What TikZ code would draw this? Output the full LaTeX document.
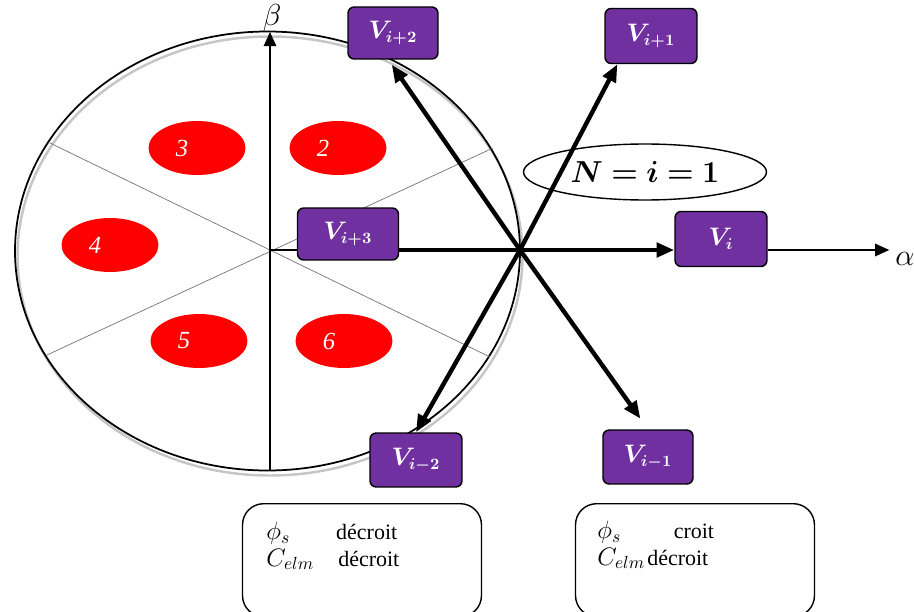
\documentclass[tikz,border=0pt]{standalone}
\usepackage{fontspec}
\setmainfont{Liberation Serif}
\usepackage{amsmath}
\usepackage{bm}
\usetikzlibrary{arrows.meta,shapes.geometric}
\definecolor{vecfill}{HTML}{7030A0}
\definecolor{sectred}{HTML}{FF0000}
\newcommand{\bigmath}[1]{{\fontsize{14.5}{15}\selectfont$#1$}}
\tikzset{
  vbox/.style={draw=black, fill=vecfill, text=white, rounded corners=3.5pt,
               line width=0.8pt, minimum width=1.8cm, minimum height=1.04cm,
               inner sep=0pt, font=\fontsize{13.5}{16}\selectfont},
  sector/.style={ellipse, fill=sectred, minimum width=1.94cm,
                 minimum height=1.08cm, inner sep=0pt},
  seclabel/.style={text=white, font=\fontsize{14}{16}\selectfont\itshape},
  infobox/.style={draw, rounded corners=12pt, line width=0.8pt,
                  minimum width=4.78cm, minimum height=2.26cm, anchor=north},
  infotext/.style={anchor=base west, align=left, inner sep=0pt,
                   font=\fontsize{12.5}{15}\selectfont},
  vecarrow/.style={line width=2.5pt, -{Triangle[length=10pt,width=8pt]}},
  axisarrow/.style={line width=1.1pt, -{Triangle[length=8pt,width=7pt]}},
  sectline/.style={black!55, line width=0.4pt},
}

\begin{document}
\begin{tikzpicture}[x=0.02cm, y=-0.02cm]
  \useasboundingbox (0,0) rectangle (914,612);
  % cercle du flux
  \draw[gray!45, line width=1.4pt] (270,256) ellipse [x radius=252.5, y radius=219.5];
  \draw[line width=1pt] (267.5,251) ellipse [x radius=252.5, y radius=219.5];
  \draw[sectline] (50,143) -- (490,357);
  \draw[sectline] (47,355) -- (493,148);
  \foreach \n/\x/\y in {2/338/148, 3/197/148, 4/110/245, 5/199/341, 6/344/341} {
    \node[sector] (s\n) at (\x,\y) {};
    \node[seclabel] at ([xshift=-0.3cm]s\n.center) {\n};
  }
  % axes
  \coordinate (orig) at (270,250);
  \coordinate (betabot) at (270,471);
  \coordinate (betatop) at (270,32);
  \node[above, inner sep=0pt, font=\fontsize{16}{18}\selectfont] (beta) at ([xshift=0.04cm]betatop) {$\beta$};
  \draw[axisarrow] (betabot) -- (betatop);
  \coordinate (star) at (520,250);
  % vecteurs tension
  \node[vbox] (vip2) at (393,33) {$\bm{V_{i+2}}$};
  \node[vbox, minimum width=1.84cm, minimum height=1.1cm] (vip1) at (651,36) {$\bm{V_{i+1}}$};
  \node[vbox, minimum width=2.02cm] (vip3) at (348,234) {$\bm{V_{i+3}}$};
  \node[vbox, minimum width=1.84cm, minimum height=1.1cm] (vi) at (721,239) {$\bm{V_{i}}$};
  \node[vbox, minimum width=1.84cm, minimum height=1.08cm] (vim2) at (416,460) {$\bm{V_{i-2}}$};
  \node[vbox, minimum height=1.08cm] (vim1) at (648,457) {$\bm{V_{i-1}}$};
  \node[font=\fontsize{17}{19}\selectfont] (alpha) at (905,259) {$\alpha$};
  \draw[line width=1.2pt] (orig) -- (vip3.west |- orig);
  \draw[vecarrow] (vip3.east |- star) -- (vi.west |- star);
  \draw[axisarrow] (vi.east |- star) -- (alpha.west |- star);
  \draw[vecarrow, shorten >=0.12cm] (star) -- (vip2.-100);
  \draw[vecarrow] (star) -- (vip1.-140);
  \draw[vecarrow, shorten >=0.26cm] (star) -- (vim1.north);
  \draw[vecarrow] (star) -- (vim2.north);
  \node[draw, ellipse, line width=0.8pt, minimum width=4.86cm, minimum height=1.12cm,
        inner sep=0pt, font=\fontsize{19}{22}\selectfont] (nsel) at (645,172) {$\bm{N=i=1}$};
  % tableaux
  \node[infobox] (boxleft) at (362,503) {};
  \node[infobox] (boxright) at (695,503) {};
  \node[infotext] at (266,566) {\bigmath{\phi_s}\hspace{2.1em}décroit\\\bigmath{C_{elm}}\hspace{1.1em}décroit};
  \node[infotext] at (597,565) {\bigmath{\phi_s}\hspace{2.4em}croit\\\bigmath{C_{elm}}\hspace{0.1em}décroit};
\end{tikzpicture}
\end{document}
